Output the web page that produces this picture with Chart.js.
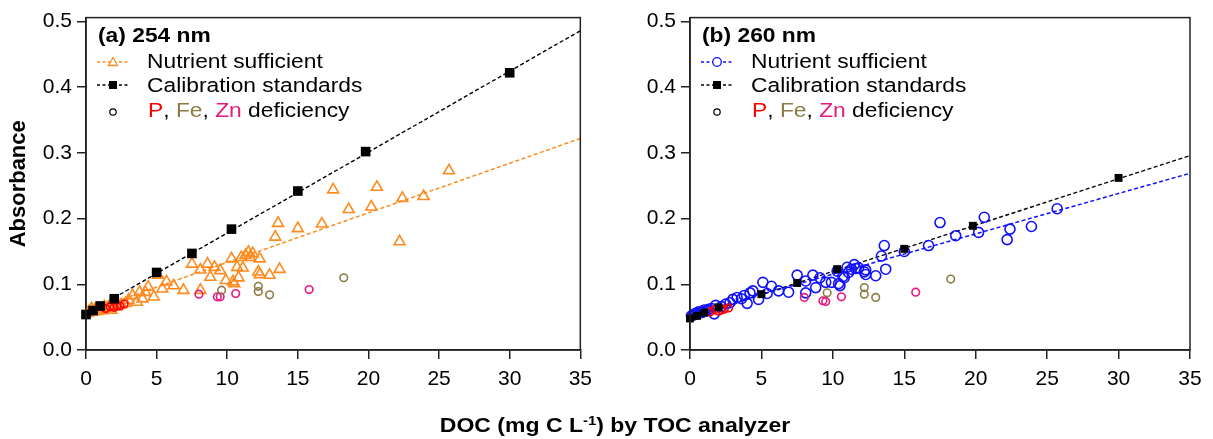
<!DOCTYPE html>
<html>
<head>
<meta charset="utf-8">
<script src="https://cdn.jsdelivr.net/npm/chart.js@4"></script>
<style>
  html, body { margin: 0; padding: 0; background: #fff; }
  body { width: 1213px; height: 439px; position: relative; overflow: hidden; font-family: "Liberation Sans", Arial, sans-serif; }
  canvas { position: absolute; top: 0; }
  #xtitle { position: absolute; left: 365px; width: 500px; top: 414px; text-align: center; font-weight: bold; font-size: 20px; line-height: 22px; color: #000; transform: scaleX(1.15); transform-origin: 250px 0; }
  #xtitle sup { font-size: 13px; line-height: 0; vertical-align: 7px; }
</style>
</head>
<body>
<canvas id="cA" width="600" height="439" style="left:0px"></canvas>
<canvas id="cB" width="613" height="439" style="left:600px"></canvas>
<div id="xtitle">DOC (mg C L<sup>-1</sup>) by TOC analyzer</div>
<script>
// ---- data ----
const nsDOC = [25.7, 23.9, 22.4, 22.2, 20.6, 20.2, 18.6, 17.5, 16.7, 15.0,
  13.6, 13.4, 13.7, 13.0, 12.3, 12.3, 12.2, 11.8, 11.6, 11.5,
  11.3, 11.1, 11.0, 10.8, 10.7, 10.5, 10.4, 10.3, 9.9, 9.5,
  9.1, 8.8, 8.6, 8.1, 8.1, 7.5, 6.9, 6.2, 5.7, 5.4,
  5.1, 4.8, 4.4, 4.2, 4.0, 3.8, 3.6, 3.3, 3.0, 2.8,
  2.5, 2.2, 1.8, 1.7, 1.5, 1.3, 1.2, 1.0, 0.9, 0.8,
  0.6, 0.5, 0.4, 0.3, 0.2, 0.1];
const nsAbs254 = [0.273, 0.234, 0.231, 0.165, 0.248, 0.218, 0.214, 0.244, 0.192, 0.185,
  0.193, 0.172, 0.123, 0.114, 0.139, 0.115, 0.119, 0.147, 0.141, 0.149,
  0.144, 0.125, 0.141, 0.110, 0.126, 0.101, 0.104, 0.139, 0.106, 0.121,
  0.126, 0.111, 0.131, 0.122, 0.091, 0.131, 0.091, 0.098, 0.104, 0.093,
  0.114, 0.081, 0.096, 0.088, 0.078, 0.088, 0.073, 0.083, 0.076, 0.071,
  0.069, 0.066, 0.061, 0.068, 0.064, 0.066, 0.060, 0.063, 0.062, 0.059,
  0.061, 0.058, 0.063, 0.060, 0.058, 0.056];
const nsAbs260 = [0.215, 0.188, 0.184, 0.168, 0.202, 0.179, 0.174, 0.194, 0.159, 0.150,
  0.159, 0.143, 0.123, 0.113, 0.122, 0.115, 0.119, 0.125, 0.124, 0.130,
  0.123, 0.118, 0.126, 0.110, 0.112, 0.098, 0.101, 0.120, 0.103, 0.103,
  0.110, 0.095, 0.114, 0.105, 0.087, 0.114, 0.088, 0.090, 0.097, 0.086,
  0.103, 0.077, 0.090, 0.087, 0.071, 0.083, 0.078, 0.080, 0.077, 0.072,
  0.070, 0.066, 0.068, 0.055, 0.063, 0.062, 0.060, 0.061, 0.058, 0.057,
  0.058, 0.055, 0.056, 0.054, 0.053, 0.052];

const calDOC = [0, 0.5, 1, 2, 5, 7.5, 10.3, 15, 19.8, 30];
const calAbs254 = [0.054, 0.060, 0.067, 0.078, 0.118, 0.147, 0.184, 0.242, 0.302, 0.422];
const calAbs260 = [0.048, 0.052, 0.057, 0.065, 0.085, 0.102, 0.123, 0.154, 0.189, 0.262];

const pDOC = [1.4, 1.7, 2.0, 2.2, 2.4, 2.7];
const pAbs254 = [0.063, 0.066, 0.065, 0.067, 0.067, 0.070];
const pAbs260 = [0.058, 0.061, 0.059, 0.061, 0.062, 0.064];
const feDOC = [9.6, 12.2, 12.2, 13.0, 18.25];
const feAbs254 = [0.091, 0.097, 0.089, 0.084, 0.110];
const feAbs260 = [0.087, 0.095, 0.085, 0.080, 0.108];
const znDOC = [8.0, 9.3, 9.5, 10.6, 15.8];
const znAbs254 = [0.085, 0.081, 0.081, 0.086, 0.092];
const znAbs260 = [0.080, 0.075, 0.074, 0.081, 0.088];

const fitDOC = [0, 35];
const nsFit254 = [0.058, 0.322];
const calFit254 = [0.055, 0.486];
const nsFit260 = [0.054, 0.269];
const calFit260 = [0.049, 0.296];

const xTicks = [0, 5, 10, 15, 20, 25, 30, 35];
const yTicks = [0.0, 0.1, 0.2, 0.3, 0.4, 0.5];

// ---- helpers ----
const FONT = '"Liberation Sans", Arial, sans-serif';
const ORANGE = '#ff8a1e', BLUE = '#1010ff', RED = '#ff0000', OLIVE = '#8c7b45', PINK = '#e8197f';
const pts = (xs, ys) => xs.map((x, i) => ({ x: x, y: ys[i] }));

function drawRuns(ctx, x, y, runs, font, sx) {
  ctx.save();
  ctx.translate(x, y);
  ctx.scale(sx, 1);
  ctx.font = font;
  ctx.textBaseline = 'alphabetic';
  ctx.textAlign = 'left';
  let cx = 0;
  runs.forEach(r => {
    ctx.fillStyle = r[1];
    ctx.fillText(r[0], cx, 0);
    cx += ctx.measureText(r[0]).width;
  });
  ctx.restore();
}

function makeChart(id, cfg) {
  const frameLegend = {
    id: 'frameLegend',
    afterDraw(chart) {
      const ctx = chart.ctx, ca = chart.chartArea;
      ctx.save();
      ctx.strokeStyle = '#222';
      ctx.lineWidth = 1.5;
      ctx.strokeRect(ca.left, ca.top, ca.right - ca.left, ca.bottom - ca.top);
      const L = ca.left;
      // title
      drawRuns(ctx, L + 12, 42, [['(' + cfg.title[0] + ') ' + cfg.title[1], '#000']], 'bold 20px ' + FONT, 1.14);
      // row 1: nutrient sufficient
      ctx.setLineDash([3, 2.5]);
      ctx.lineWidth = 1.3;
      ctx.strokeStyle = cfg.nsColor;
      ctx.beginPath(); ctx.moveTo(L + 11, 62); ctx.lineTo(L + 44, 62); ctx.stroke();
      ctx.setLineDash([]);
      ctx.fillStyle = '#fff';
      ctx.lineWidth = 1.3;
      if (cfg.nsStyle === 'triangle') {
        ctx.beginPath();
        ctx.moveTo(L + 27, 57.5); ctx.lineTo(L + 31.5, 65.5); ctx.lineTo(L + 22.5, 65.5); ctx.closePath();
        ctx.fill(); ctx.stroke();
      } else {
        ctx.beginPath(); ctx.arc(L + 27, 62, 4.3, 0, Math.PI * 2); ctx.fill(); ctx.stroke();
      }
      drawRuns(ctx, L + 61, 68, [['Nutrient sufficient', '#000']], '20px ' + FONT, 1.14);
      // row 2: calibration
      ctx.setLineDash([3, 2.5]);
      ctx.strokeStyle = '#000';
      ctx.beginPath(); ctx.moveTo(L + 11, 85); ctx.lineTo(L + 44, 85); ctx.stroke();
      ctx.setLineDash([]);
      ctx.fillStyle = '#000';
      ctx.fillRect(L + 23, 81, 8, 8);
      drawRuns(ctx, L + 61, 92, [['Calibration standards', '#000']], '20px ' + FONT, 1.14);
      // row 3: deficiency
      ctx.strokeStyle = '#000';
      ctx.lineWidth = 1.2;
      ctx.beginPath(); ctx.arc(L + 27, 112, 3.2, 0, Math.PI * 2); ctx.stroke();
      drawRuns(ctx, L + 62, 117, [['P', RED], [', ', '#000'], ['Fe', OLIVE], [', ', '#000'], ['Zn', PINK], [' deficiency', '#000']], '20px ' + FONT, 1.14);
      ctx.restore();
    }
  };

  const ds = [
    { data: pts(fitDOC, cfg.calFit), showLine: true, pointRadius: 0, borderColor: '#000', borderWidth: 1.4, borderDash: [4, 2.5], order: 10 },
    { data: pts(fitDOC, cfg.nsFit), showLine: true, pointRadius: 0, borderColor: cfg.nsColor, borderWidth: 1.5, borderDash: [4, 2.5], order: 9 },
    { data: pts(nsDOC, cfg.ns), pointStyle: cfg.nsStyle, pointRadius: cfg.nsRadius, borderColor: cfg.nsColor, backgroundColor: 'rgba(0,0,0,0)', pointBorderWidth: 1.6, clip: false, order: 5 },
    { data: pts(pDOC, cfg.p), pointStyle: 'circle', pointRadius: 3.8, borderColor: RED, backgroundColor: 'rgba(0,0,0,0)', pointBorderWidth: 1.6, clip: false, order: 3 },
    { data: pts(feDOC, cfg.fe), pointStyle: 'circle', pointRadius: 3.8, borderColor: OLIVE, backgroundColor: 'rgba(0,0,0,0)', pointBorderWidth: 1.6, clip: false, order: 3 },
    { data: pts(znDOC, cfg.zn), pointStyle: 'circle', pointRadius: 3.8, borderColor: PINK, backgroundColor: 'rgba(0,0,0,0)', pointBorderWidth: 1.6, clip: false, order: 3 },
    { data: pts(calDOC, cfg.cal), pointStyle: 'rect', pointRadius: cfg.calRadius, borderColor: '#000', backgroundColor: '#000', pointBorderWidth: 0, clip: false, order: 1 }
  ];

  return new Chart(document.getElementById(id), {
    type: 'scatter',
    data: { datasets: ds },
    options: {
      responsive: false,
      animation: false,
      devicePixelRatio: 1,
      layout: { padding: { left: 0, right: cfg.padRight, top: 16, bottom: 0 } },
      plugins: { legend: { display: false }, tooltip: { enabled: false } },
      scales: {
        x: {
          type: 'linear', min: 0, max: 35,
          afterBuildTicks: s => { s.ticks = xTicks.map(v => ({ value: v })); },
          afterFit: s => { s.height = 89; },
          grid: { drawOnChartArea: false, drawTicks: true, tickLength: 9, color: '#222', lineWidth: 1.5 },
          border: { display: true, color: '#222', width: 1.5 },
          ticks: { color: '#000', padding: 8, maxRotation: 0, autoSkip: false, font: { family: FONT, size: 21 } }
        },
        y: {
          type: 'linear', min: 0, max: 0.506,
          afterBuildTicks: s => { s.ticks = yTicks.map(v => ({ value: v })); },
          afterFit: s => { s.width = cfg.yWidth; },
          grid: { drawOnChartArea: false, drawTicks: true, tickLength: 9, color: '#222', lineWidth: 1.5 },
          border: { display: true, color: '#222', width: 1.5 },
          ticks: { color: '#000', padding: 5, autoSkip: false, font: { family: FONT, size: 21 }, callback: v => Number(v).toFixed(1) },
          title: cfg.yTitle ? { display: true, text: 'Absorbance', color: '#000', padding: { top: 6, bottom: 0 }, font: { family: FONT, size: 22, weight: 'bold' } } : { display: false }
        }
      }
    },
    plugins: [frameLegend]
  });
}

makeChart('cA', {
  title: ['a', '254 nm'], nsColor: ORANGE, nsStyle: 'triangle', nsRadius: 6.3, calRadius: 6.8,
  ns: nsAbs254, cal: calAbs254, p: pAbs254, fe: feAbs254, zn: znAbs254,
  nsFit: nsFit254, calFit: calFit254, yWidth: 86, padRight: 14, yTitle: true
});
makeChart('cB', {
  title: ['b', '260 nm'], nsColor: BLUE, nsStyle: 'circle', nsRadius: 5, calRadius: 5.6,
  ns: nsAbs260, cal: calAbs260, p: pAbs260, fe: feAbs260, zn: znAbs260,
  nsFit: nsFit260, calFit: calFit260, yWidth: 90, padRight: 23, yTitle: false
});
</script>
</body>
</html>
